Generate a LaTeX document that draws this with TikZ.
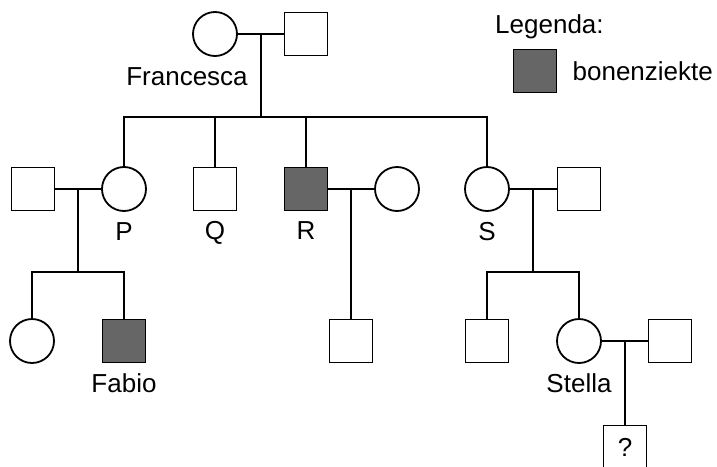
\documentclass[tikz,border=0pt]{standalone}
\usepackage{fontspec}
\setmainfont{Liberation Sans}
\usetikzlibrary{positioning}
\definecolor{sick}{HTML}{666666}

\begin{document}
\begin{tikzpicture}[
x=1pt,y=-1pt,
line width=1.8pt,
font=\fontsize{26}{31}\selectfont,
male/.style={
  draw,
  rectangle,
  minimum size=43pt,
  inner sep=0pt
},
female/.style={
  draw,
  circle,
  minimum size=44pt,
  inner sep=0pt
},
ill/.style={fill=sick},
label distance=6pt
]
\useasboundingbox (0,0) rectangle (717,466);

\node[female,label={[xshift=-28pt]below:Francesca}] (fran) at (215,34) {};
\node[male] (franm) at (306,34) {};
\coordinate (j0) at (261,34);
\coordinate (s0) at (261,117);

\node[male] (pm) at (33,189) {};
\node[female,label=below:P] (p) at (124,189) {};
\node[male,label=below:Q] (q) at (215,189) {};
\node[male,ill,label=below:R] (r) at (306,189) {};
\node[female] (rw) at (397,189) {};
\node[female,label=below:S] (s) at (487,189) {};
\node[male] (sm) at (579,189) {};
\coordinate (j1) at (78,189);
\coordinate (s1) at (78,272);
\coordinate (j2) at (351,189);
\coordinate (j3) at (533,189);
\coordinate (s3) at (533,272);

\node[female] (c1) at (32,341) {};
\node[male,ill,label=below:Fabio] (fabio) at (124,341) {};
\node[male] (rc) at (351,341) {};
\node[male] (sc) at (487,341) {};
\node[female,label=below:Stella] (stella) at (579,341) {};
\node[male] (stm) at (670,341) {};
\coordinate (j4) at (625,341);
\node[male] (unk) at (625,447) {?};

\node[anchor=west] (legtitle) at (491,27) {Legenda:};
\node[male,ill] (legsq) at (535,71) {};
\node[right=11pt of legsq] (legtxt) {bonenziekte};

\draw (fran) -- (franm);
\draw (j0) -- (s0);
\draw (p) -- (p |- s0) -- (s |- s0) -- (s);
\draw (q) -- (q |- s0);
\draw (r) -- (r |- s0);

\draw (pm) -- (p);
\draw (j1) -- (s1);
\draw (c1) -- (c1 |- s1) -- (fabio |- s1) -- (fabio);

\draw (r) -- (rw);
\draw (j2) -- (rc);

\draw (s) -- (sm);
\draw (j3) -- (s3);
\draw (sc) -- (sc |- s3) -- (stella |- s3) -- (stella);

\draw (stella) -- (stm);
\draw (j4) -- (unk);
\end{tikzpicture}
\end{document}
